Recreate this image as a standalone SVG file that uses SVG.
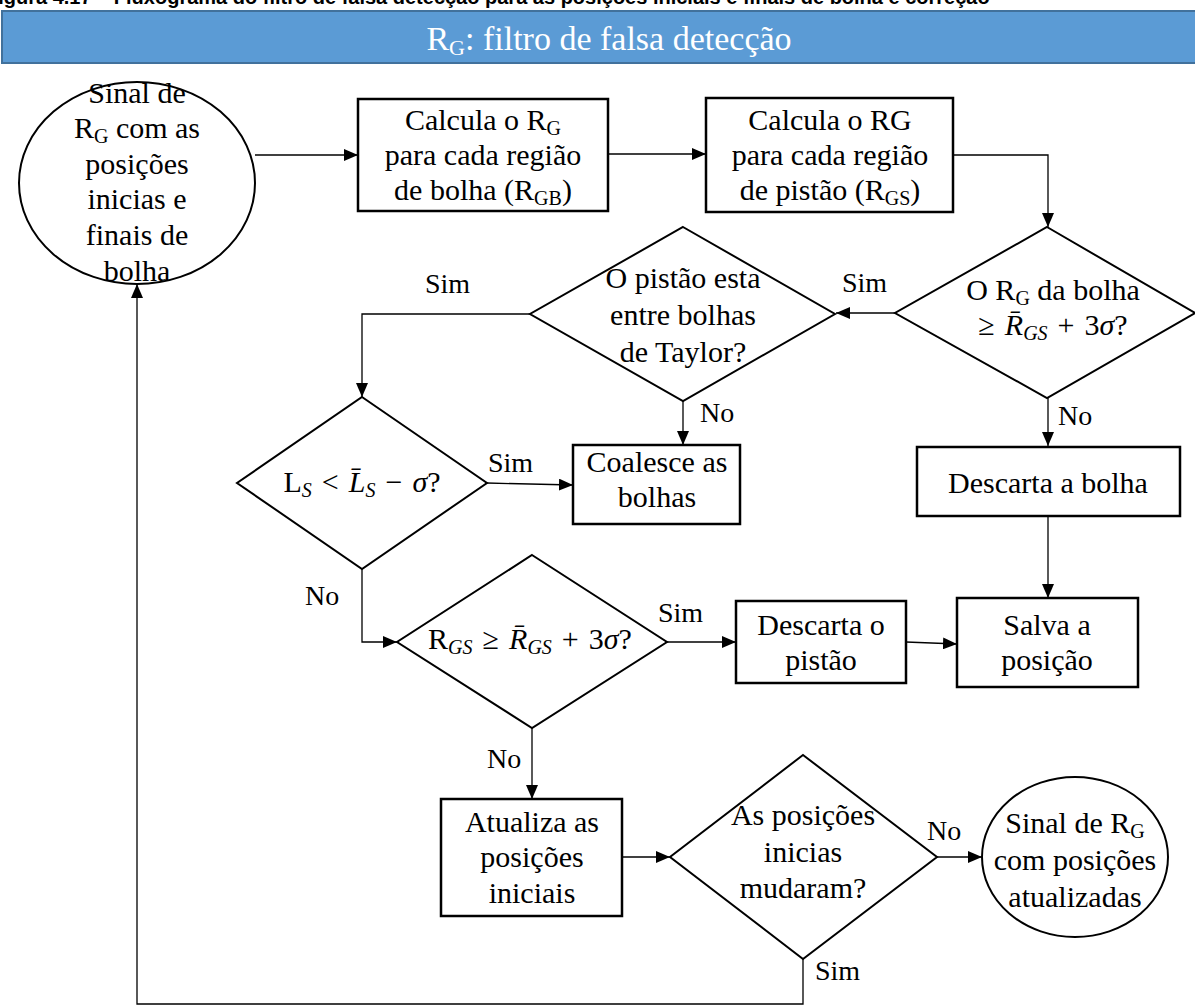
<svg xmlns="http://www.w3.org/2000/svg" width="1195" height="1005" viewBox="0 0 1195 1005">
  <defs>
    <marker id="arrow" markerUnits="userSpaceOnUse" markerWidth="14" markerHeight="12" refX="14" refY="6" orient="auto">
      <path d="M0,0 L14,6 L0,12 z" fill="#000"/>
    </marker>
    <style>
      .box { fill: #fff; stroke: #000; stroke-width: 2.5; }
      .dec { fill: #fff; stroke: #000; stroke-width: 2; }
      .term { fill: #fff; stroke: #000; stroke-width: 2; }
      .conn { fill: none; stroke: #000; stroke-width: 1.3; marker-end: url(#arrow); }
      text { font-family: "Liberation Serif", "Times New Roman", serif; font-size: 30px; fill: #000; }
      .c { text-anchor: middle; }
      .lbl { font-size: 28px; }
      .sub { font-size: 20px; }
      .it { font-style: italic; }
    </style>
  </defs>

  <rect width="1195" height="1005" fill="#fff"/>

  <!-- caption line, mostly above the frame -->
  <text x="-14" y="4" style="font-family:'Liberation Sans',Arial,sans-serif;font-weight:bold;font-size:20px">Figura 4.17 – Fluxograma do filtro de falsa detecção para as posições iniciais e finais de bolha e correção</text>

  <!-- title bar -->
  <g id="title">
    <rect x="2" y="11" width="1200" height="52" fill="#5B9BD5" stroke="#41719C" stroke-width="2"/>
    <text x="609" y="50" class="c" style="fill:#fff;font-size:34px">R<tspan dy="5" style="fill:#fff;font-size:22px">G</tspan><tspan dy="-5" style="fill:#fff">: filtro de falsa detecção</tspan></text>
  </g>

  <!-- connectors -->
  <g id="connectors">
    <path class="conn" d="M255,155 H358"/>
    <path class="conn" d="M608,154 H706"/>
    <path class="conn" d="M953,155 H1048 V227"/>
    <path class="conn" d="M895,313 H836"/>
    <path class="conn" d="M1048,398 V446"/>
    <path class="conn" d="M683,401 V445"/>
    <path class="conn" d="M530,314 H362 V397"/>
    <path class="conn" d="M487,483 L573,485"/>
    <path class="conn" d="M362,569 V642 H397"/>
    <path class="conn" d="M667,642 H736"/>
    <path class="conn" d="M532,728 V799"/>
    <path class="conn" d="M1048,516 V598"/>
    <path class="conn" d="M906,642 L957,644"/>
    <path class="conn" d="M622,857 H670"/>
    <path class="conn" d="M937,857 H982"/>
    <path class="conn" d="M803,959 V1004 H137 V284"/>
    <text x="842" y="292" class="lbl">Sim</text>
    <text x="1058" y="425" class="lbl">No</text>
    <text x="425" y="293" class="lbl">Sim</text>
    <text x="700" y="422" class="lbl">No</text>
    <text x="488" y="472" class="lbl">Sim</text>
    <text x="305" y="605" class="lbl">No</text>
    <text x="658" y="622" class="lbl">Sim</text>
    <text x="487" y="768" class="lbl">No</text>
    <text x="927" y="840" class="lbl">No</text>
    <text x="815" y="980" class="lbl">Sim</text>
  </g>

  <!-- start terminal -->
  <g id="start">
    <ellipse class="term" cx="137" cy="183" rx="118" ry="101"/>
    <text x="137" y="103" class="c">Sinal de</text>
    <text x="137" y="138" class="c">R<tspan class="sub" dy="5">G</tspan><tspan dy="-5"> com as</tspan></text>
    <text x="137" y="174" class="c">posições</text>
    <text x="137" y="209" class="c">inicias e</text>
    <text x="137" y="245" class="c">finais de</text>
    <text x="137" y="281" class="c">bolha</text>
  </g>

  <g id="calc-bubble">
    <rect class="box" x="358" y="99" width="250" height="112"/>
    <text x="483" y="130" class="c">Calcula o R<tspan class="sub" dy="5">G</tspan></text>
    <text x="483" y="165" class="c">para cada região</text>
    <text x="483" y="200" class="c">de bolha (R<tspan class="sub" dy="5">GB</tspan><tspan dy="-5">)</tspan></text>
  </g>

  <g id="calc-slug">
    <rect class="box" x="706" y="98" width="247" height="114"/>
    <text x="830" y="130" class="c">Calcula o RG</text>
    <text x="830" y="165" class="c">para cada região</text>
    <text x="830" y="200" class="c">de pistão (R<tspan class="sub" dy="5">GS</tspan><tspan dy="-5">)</tspan></text>
  </g>

  <g id="check-bubble">
    <polygon class="dec" points="1047,227 1195,313 1047,398 895,313"/>
    <text x="1053" y="300" class="c">O R<tspan class="sub" dy="5">G</tspan><tspan dy="-5"> da bolha</tspan></text>
    <text x="1053" y="335" class="c">≥&#8196;<tspan class="it">R̄</tspan><tspan class="sub it" dy="5">GS</tspan><tspan dy="-5">&#8196;+&#8196;3</tspan><tspan class="it">σ</tspan>?</text>
  </g>

  <g id="check-taylor">
    <polygon class="dec" points="683,227 835,314 683,401 530,314"/>
    <text x="683" y="288" class="c">O pistão esta</text>
    <text x="683" y="325" class="c">entre bolhas</text>
    <text x="683" y="362" class="c">de Taylor?</text>
  </g>

  <g id="check-length">
    <polygon class="dec" points="362,397 487,483 362,569 237,483"/>
    <text x="362" y="492" class="c">L<tspan class="sub it" dy="5">S</tspan><tspan dy="-5">&#8196;&lt;&#8196;</tspan><tspan class="it">L̄</tspan><tspan class="sub it" dy="5">S</tspan><tspan dy="-5">&#8196;−&#8196;</tspan><tspan class="it">σ</tspan>?</text>
  </g>

  <g id="coalesce">
    <rect class="box" x="573" y="445" width="167" height="79"/>
    <text x="657" y="472" class="c">Coalesce as</text>
    <text x="657" y="507" class="c">bolhas</text>
  </g>

  <g id="discard-bubble">
    <rect class="box" x="917" y="447" width="263" height="69"/>
    <text x="1048" y="493" class="c">Descarta a bolha</text>
  </g>

  <g id="check-slug">
    <polygon class="dec" points="532,555 667,642 532,728 397,642"/>
    <text x="530" y="649" class="c">R<tspan class="sub it" dy="5">GS</tspan><tspan dy="-5">&#8196;≥&#8196;</tspan><tspan class="it">R̄</tspan><tspan class="sub it" dy="5">GS</tspan><tspan dy="-5">&#8196;+&#8196;3</tspan><tspan class="it">σ</tspan>?</text>
  </g>

  <g id="discard-slug">
    <rect class="box" x="736" y="601" width="170" height="82"/>
    <text x="821" y="635" class="c">Descarta o</text>
    <text x="821" y="670" class="c">pistão</text>
  </g>

  <g id="save">
    <rect class="box" x="957" y="598" width="181" height="89"/>
    <text x="1047" y="635" class="c">Salva a</text>
    <text x="1047" y="670" class="c">posição</text>
  </g>

  <g id="update">
    <rect class="box" x="441" y="799" width="181" height="117"/>
    <text x="532" y="832" class="c">Atualiza as</text>
    <text x="532" y="867" class="c">posições</text>
    <text x="532" y="903" class="c">iniciais</text>
  </g>

  <g id="check-changed">
    <polygon class="dec" points="803,755 937,857 803,959 670,857"/>
    <text x="803" y="825" class="c">As posições</text>
    <text x="803" y="862" class="c">inicias</text>
    <text x="803" y="898" class="c">mudaram?</text>
  </g>

  <g id="end">
    <ellipse class="term" cx="1075" cy="857" rx="93" ry="80"/>
    <text x="1075" y="833" class="c">Sinal de R<tspan class="sub" dy="5">G</tspan></text>
    <text x="1075" y="870" class="c">com posições</text>
    <text x="1075" y="907" class="c">atualizadas</text>
  </g>
</svg>
